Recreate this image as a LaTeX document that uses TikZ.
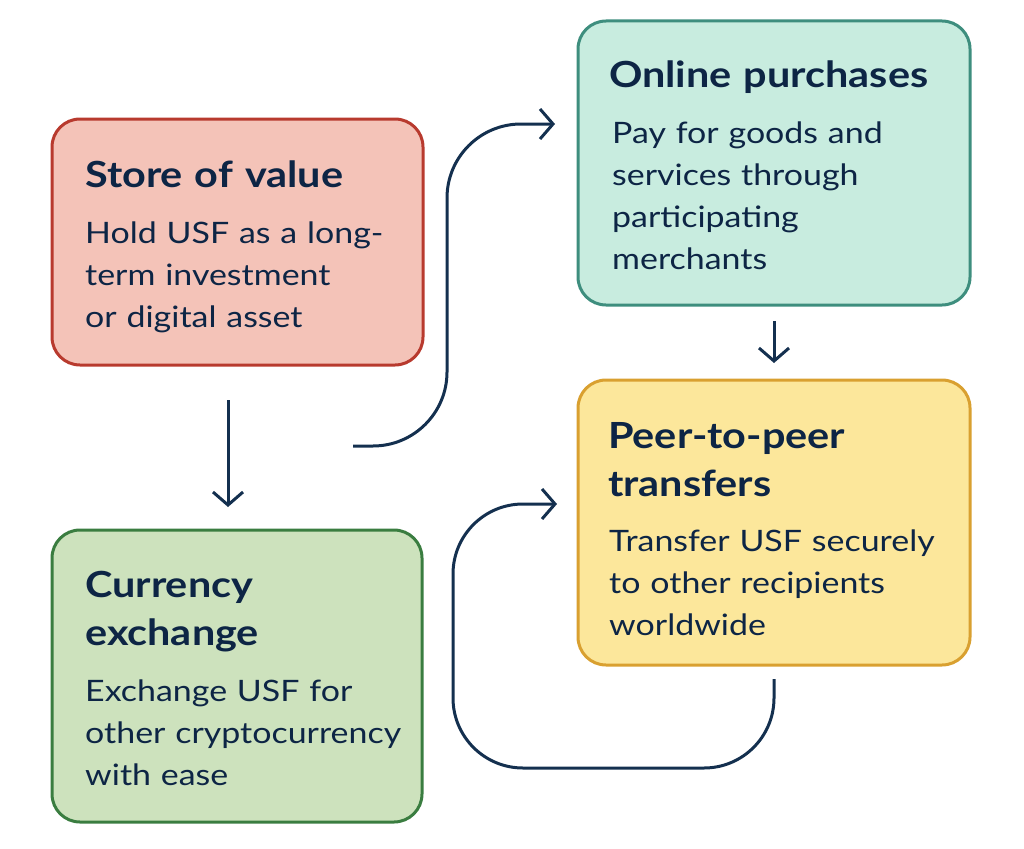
\documentclass[tikz,border=0pt]{standalone}
\usepackage{fontspec}
\setmainfont{Lato}[FakeStretch=1.15]
\usetikzlibrary{arrows.meta}
\definecolor{navy}{HTML}{14304F}
\definecolor{ink}{HTML}{0D2545}
\definecolor{redfill}{HTML}{F4C3B8}
\definecolor{redline}{HTML}{B83A2E}
\definecolor{tealfill}{HTML}{C8ECDF}
\definecolor{tealline}{HTML}{3E8E7E}
\definecolor{yelfill}{HTML}{FCE79B}
\definecolor{yelline}{HTML}{D9A030}
\definecolor{grnfill}{HTML}{CDE2BD}
\definecolor{grnline}{HTML}{3A7D40}
\tikzset{
  card/.style={draw, line width=3pt, rounded corners=28pt, inner sep=0pt, outer sep=0pt},
  ttl/.style={anchor=base west, inner sep=0pt, text width=380pt, align=left, text=ink,
    font=\fontsize{36}{48}\selectfont\bfseries},
  body/.style={anchor=base west, inner sep=0pt, text width=380pt, align=left, text=ink,
    font=\fontsize{29.5}{42}\selectfont},
  conn/.style={draw=navy, line width=3pt, -{Straight Barb[length=13pt,width=30pt,line width=3pt]}}
}
\begin{document}
\begin{tikzpicture}[x=1pt,y=-1pt]
\useasboundingbox (0,0) rectangle (1024,848);
% cards
\node[card, draw=redline, fill=redfill, minimum width=371pt, minimum height=246pt] (store) at (237.5,242) {};
\node[card, draw=tealline, fill=tealfill, minimum width=392pt, minimum height=284pt] (online) at (774,163) {};
\node[card, draw=yelline, fill=yelfill, minimum width=392pt, minimum height=285pt] (peer) at (774,522.5) {};
\node[card, draw=grnline, fill=grnfill, minimum width=370pt, minimum height=292pt] (curr) at (237,676) {};
% texts
\node[ttl] (storeT) at (85,187) {Store of value};
\node[body] (storeB) at (85,243) {Hold USF as a long-\\term investment\\or digital asset};
\node[ttl] (onlineT) at (609,88) {Online purchases};
\node[body] (onlineB) at (612,143) {Pay for goods and\\services through\\participating\\merchants};
\node[ttl] (peerT) at (608,448) {Peer-to-peer\\transfers};
\node[body] (peerB) at (609,551) {Transfer USF securely\\to other recipients\\worldwide};
\node[ttl] (currT) at (85,597) {Currency\\exchange};
\node[body] (currB) at (85,701) {Exchange USF for\\other cryptocurrency\\with ease};
% connectors
\coordinate (c1s) at (353,446);
\coordinate (c2s) at (774,679);
\draw[conn, shorten <=35pt, shorten >=23pt] ([xshift=-9.5pt]store.south) -- ([xshift=-9pt]curr.north);
\draw[conn, shorten <=16pt, shorten >=17pt] (online.south) -- (peer.north);
\draw[conn, rounded corners=74pt] (c1s) -| (447,124) -- ([xshift=-23pt]online.west |- 0,124);
\draw[conn, rounded corners=70pt] (c2s) -- (774,768) -- (453,768) -- (453,504) -- ([xshift=-21pt]peer.west |- 0,504);
\end{tikzpicture}
\end{document}
